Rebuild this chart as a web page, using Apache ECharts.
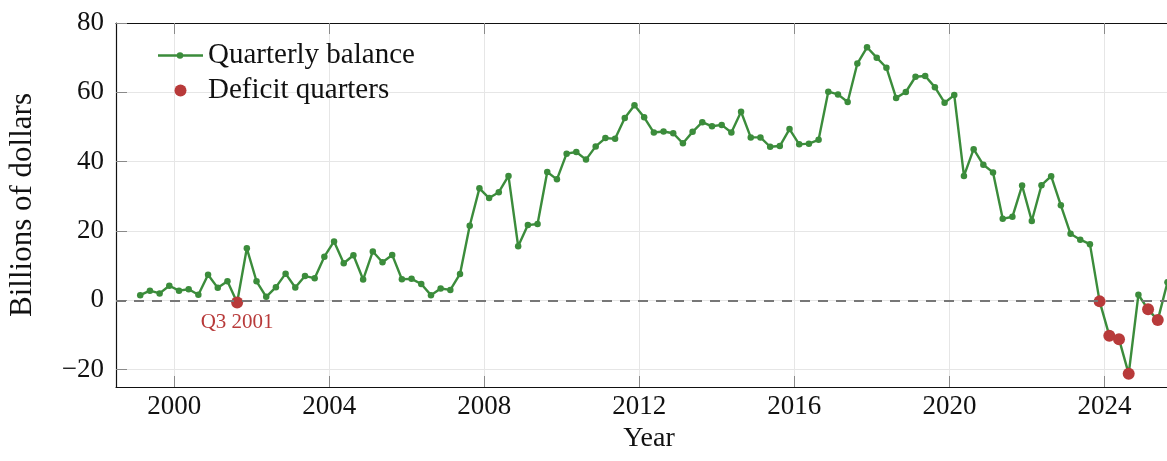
<!DOCTYPE html>
<html>
<head>
<meta charset="utf-8">
<script src="https://cdn.jsdelivr.net/npm/echarts@6/dist/echarts.min.js"></script>
<style>
  html, body { margin: 0; padding: 0; background: #fff; }
  #chart { width: 1167px; height: 461px; }
</style>
</head>
<body>
<div id="chart"></div>
<script>
// ---- data ----
const startYear = 1999;
const balance = [
  1.5, 2.8, 2.0, 4.2,      // 1999
  2.8, 3.2, 1.6, 7.4,      // 2000
  3.6, 5.5, -0.6, 15.0,    // 2001
  5.5, 1.0, 3.8, 7.7,      // 2002
  3.7, 7.0, 6.4, 12.6,     // 2003
  17.0, 10.7, 13.0, 6.0,   // 2004
  14.1, 11.0, 13.1, 6.1,   // 2005
  6.2, 4.7, 1.5, 3.4,      // 2006
  3.0, 7.6, 21.5, 32.3,    // 2007
  29.5, 31.2, 35.9, 15.6,  // 2008
  21.7, 22.0, 37.0, 34.9,  // 2009
  42.3, 42.8, 40.6, 44.4,  // 2010
  46.8, 46.6, 52.6, 56.3,  // 2011
  52.8, 48.4, 48.7, 48.2,  // 2012
  45.3, 48.6, 51.4, 50.2,  // 2013
  50.6, 48.4, 54.4, 47.0,  // 2014
  47.0, 44.3, 44.5, 49.4,  // 2015
  45.0, 45.2, 46.3, 60.2,  // 2016
  59.4, 57.2, 68.3, 73.0,  // 2017
  70.0, 67.1, 58.4, 60.1,  // 2018
  64.5, 64.7, 61.5, 57.0,  // 2019
  59.2, 35.9, 43.6, 39.1,  // 2020
  36.9, 23.5, 24.1, 33.1,  // 2021
  22.9, 33.2, 35.8, 27.4,  // 2022
  19.2, 17.5, 16.2, -0.3,  // 2023
  -10.2, -11.2, -21.2, 1.6,// 2024
  -2.6, -5.7, 5.2          // 2025
];
const xTicks = [2000, 2004, 2008, 2012, 2016, 2020, 2024];
const yTicks = [-20, 0, 20, 40, 60, 80];
const annotatedQuarter = { year: 2001, q: 3, text: 'Q3 2001' };
const seriesNames = ['Quarterly balance', 'Deficit quarters'];

// ---- build ----
const FONT = 'Liberation Serif';
const GREEN = '#3b8c3b';
const RED = '#b83a3a';
const quarterPos = (year, q) => year + (q - 0.5) / 4;

const points = balance.map((v, i) => {
  const year = startYear + Math.floor(i / 4), q = (i % 4) + 1;
  return { year, q, x: quarterPos(year, q), v };
});
const lineData = points.map(p => [p.x, p.v]);
const deficitData = points.filter(p => p.v < 0).map(p => {
  const item = { value: [p.x, p.v] };
  if (p.year === annotatedQuarter.year && p.q === annotatedQuarter.q) {
    item.label = {
      show: true, position: 'bottom', distance: 4, opacity: 1,
      formatter: annotatedQuarter.text,
      color: RED, fontFamily: FONT, fontSize: 21
    };
  }
  return item;
});

const fmt = v => (v < 0 ? '\u2212' + Math.abs(v) : String(v));
const tickStyle = { inside: true, length: 11, lineStyle: { color: '#8a8a8a', width: 1 } };

const chart = echarts.init(document.getElementById('chart'), null, { renderer: 'canvas' });
chart.setOption({
  animation: false,
  backgroundColor: '#fff',
  grid: { left: 116, top: 23, right: -15, bottom: 74, outerBoundsMode: 'none', containLabel: false },
  legend: {
    orient: 'vertical', left: 158, top: 41, padding: 0, itemGap: 6,
    itemWidth: 45, itemHeight: 12,
    textStyle: { fontFamily: FONT, fontSize: 29, color: '#111' },
    data: [
      { name: seriesNames[0],
        icon: 'path://M0,4.75 h45 v2.5 h-45 z M25.25,6 a3.25,3.25 0 1,1 -6.5,0 a3.25,3.25 0 1,1 6.5,0 z',
        itemStyle: { color: GREEN, borderWidth: 0, opacity: 1 } },
      { name: seriesNames[1], icon: 'circle', itemStyle: { color: RED, borderWidth: 0, opacity: 1 } }
    ]
  },
  xAxis: [{
    type: 'value', min: 1998.5, max: 2026, position: 'bottom',
    name: 'Year', nameLocation: 'middle', nameGap: 20,
    nameTextStyle: { fontFamily: FONT, fontSize: 28, color: '#111' },
    axisLine: { show: true, onZero: false, lineStyle: { color: '#111', width: 1.2 } },
    axisTick: Object.assign({ customValues: xTicks }, tickStyle),
    axisLabel: { customValues: xTicks, formatter: fmt, fontFamily: FONT, fontSize: 27, color: '#111', margin: 6 },
    splitLine: { show: true, lineStyle: { color: '#e6e6e6', width: 1 } }
  }, {
    type: 'value', min: 1998.5, max: 2026, position: 'top',
    axisLine: { show: true, onZero: false, lineStyle: { color: '#111', width: 1.2 } },
    axisTick: Object.assign({ customValues: xTicks }, tickStyle),
    axisLabel: { show: false },
    splitLine: { show: false }
  }],
  yAxis: {
    type: 'value', min: -25, max: 80,
    name: 'Billions of dollars', nameLocation: 'middle', nameGap: 78, nameRotate: 90,
    nameTextStyle: { fontFamily: FONT, fontSize: 31, color: '#111' },
    axisLine: { show: true, onZero: false, lineStyle: { color: '#111', width: 1.2 } },
    axisTick: Object.assign({ customValues: yTicks }, tickStyle),
    axisLabel: { customValues: yTicks, formatter: fmt, fontFamily: FONT, fontSize: 27, color: '#111', margin: 12 },
    splitLine: { show: true, lineStyle: { color: '#e6e6e6', width: 1 } }
  },
  series: [
    {
      name: 'zero', type: 'line', data: [], silent: true, z: 1,
      markLine: {
        silent: true, symbol: 'none', label: { show: false },
        lineStyle: { color: '#777777', type: [10, 8], width: 2, opacity: 1 },
        data: [{ yAxis: 0 }]
      }
    },
    {
      name: seriesNames[0], type: 'line', data: lineData, z: 3,
      symbol: 'circle', symbolSize: 6.5, showAllSymbol: true,
      lineStyle: { color: GREEN, width: 2.4 },
      itemStyle: { color: GREEN, borderWidth: 0 },
      clip: false
    },
    {
      name: seriesNames[1], type: 'scatter', data: deficitData, z: 4,
      symbol: 'circle', symbolSize: 12,
      itemStyle: { color: RED, borderWidth: 0, opacity: 1 },
      clip: false
    }
  ]
});
</script>
</body>
</html>
